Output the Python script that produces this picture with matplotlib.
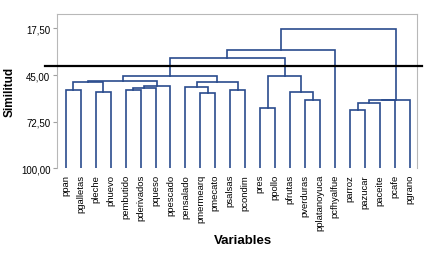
import matplotlib
matplotlib.use("Agg")
import matplotlib.pyplot as plt

plt.rcParams['font.family'] = ['Liberation Sans', 'DejaVu Sans']

# leaves in plotted order
leaves = ['ppan', 'pgalletas', 'pleche', 'phuevo', 'pembutido', 'pderivados',
          'pqueso', 'ppescado', 'pensalado', 'pmermearq', 'pmecato', 'psalsas',
          'pcondim', 'pres', 'ppollo', 'pfrutas', 'pverduras', 'pplatanoyuca',
          'pcfhyalfue', 'parroz', 'pazucar', 'paceite', 'pcafe', 'pgrano']

# merges: (cluster a, cluster b, similarity); ids >= 24 refer to earlier merges
merge_a = [0, 2, 24, 4, 27, 28, 26, 9, 8, 11, 32, 30, 13, 16, 15, 36, 35, 40, 19, 42, 43, 44, 41]
merge_b = [1, 3, 25, 5, 6, 7, 29, 10, 31, 12, 33, 34, 14, 17, 37, 38, 39, 18, 20, 21, 22, 23, 45]
merge_sim = [53.7, 55.2, 49.0, 53.7, 52.9, 51.5, 48.6, 55.6, 52.3, 53.7, 49.0, 45.3,
             64.5, 59.6, 55.2, 45.5, 35.0, 30.3, 65.8, 61.5, 59.9, 59.9, 17.9]

cut_level = 39.7
yticks = [17.5, 45.0, 72.5, 100.0]
ytick_labels = ['17,50', '45,00', '72,50', '100,00']

line_col = '#2a4b8d'

fig = plt.figure(figsize=(4.39, 2.55), dpi=100)
ax = fig.add_axes([0.1305, 0.336, 0.8195, 0.606])

n = len(leaves)
xpos = {i: float(i) for i in range(n)}
ypos = {i: 100.0 for i in range(n)}
for k in range(len(merge_a)):
    a, b, s = merge_a[k], merge_b[k], merge_sim[k]
    xa, xb = xpos[a], xpos[b]
    ax.plot([xa, xa, xb, xb], [ypos[a], s, s, ypos[b]], color=line_col, lw=1.2,
            solid_joinstyle='miter')
    xpos[n + k] = (xa + xb) / 2.0
    ypos[n + k] = s

# cut line, reaching past the frame on both sides
ax.plot([-1.38, 23.78], [cut_level, cut_level], color='black', lw=1.6, clip_on=False,
        zorder=5)

ax.set_xlim(-0.56, 23.47)
ax.set_ylim(100, 8.9)
ax.set_yticks(yticks)
ax.set_yticklabels(ytick_labels, fontsize=7)
ax.set_xticks(range(n))
ax.set_xticklabels(leaves, rotation=90, fontsize=6.8)
ax.tick_params(axis='x', length=0, pad=4)
ax.tick_params(axis='y', length=3, color='#a0a0a0', pad=2)

for side in ['left', 'right', 'top']:
    ax.spines[side].set_color('#b8b8b8')
    ax.spines[side].set_linewidth(0.8)
ax.spines['bottom'].set_visible(False)

fig.text(0.022, 0.64, 'Similitud', fontsize=8.5, fontweight='bold', rotation=90,
         ha='center', va='center')
fig.text(0.553, 0.045, 'Variables', fontsize=9.5, fontweight='bold', ha='center')

fig.savefig('out.png', dpi=100)
